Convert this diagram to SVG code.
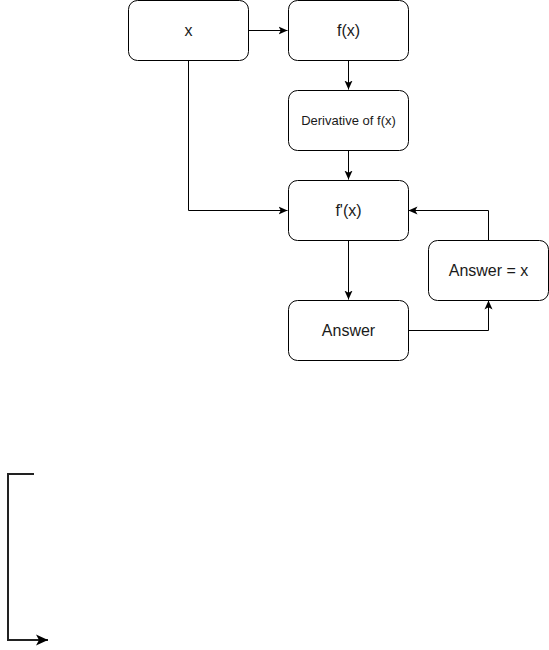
<svg xmlns="http://www.w3.org/2000/svg" width="549" height="650" viewBox="0 0 549 650">
<style>
.node rect{fill:#fff;stroke:#000;stroke-width:1}
.node text{font-family:"Liberation Sans",Arial,sans-serif;font-size:16px;fill:#1a1a1a;text-anchor:middle;dominant-baseline:central}
.edge{fill:none;stroke:#000;stroke-width:1}
</style>
<defs>
<marker id="arr" viewBox="0 0 10 10" refX="10" refY="5" markerWidth="9" markerHeight="9" markerUnits="userSpaceOnUse" orient="auto">
<path d="M0,0.5 L10,5 L0,9.5 L2.5,5 Z" fill="#000"/>
</marker>
<marker id="arr2" viewBox="0 0 10 10" refX="10" refY="5" markerWidth="12" markerHeight="12" markerUnits="userSpaceOnUse" orient="auto">
<path d="M0,0.5 L10,5 L0,9.5 L2.5,5 Z" fill="#000"/>
</marker>
</defs>
<g id="connectors">
<path class="edge" d="M248.5,30.5 H287.5" marker-end="url(#arr)"/>
<path class="edge" d="M348.5,60.5 V89.5" marker-end="url(#arr)"/>
<path class="edge" d="M348.5,150.5 V179.5" marker-end="url(#arr)"/>
<path class="edge" d="M188.5,60.5 V210.5 H287.5" marker-end="url(#arr)"/>
<path class="edge" d="M348.5,240.5 V299.5" marker-end="url(#arr)"/>
<path class="edge" d="M408.5,330.5 H488.5 V300.5" marker-end="url(#arr)"/>
<path class="edge" d="M488.5,240.5 V210.5 H408.5" marker-end="url(#arr)"/>
<path class="edge" style="stroke-width:2;stroke:#222" d="M34,474 H8 V640 H48" marker-end="url(#arr2)"/>
</g>
<g id="node-x" class="node"><rect x="128.5" y="0.5" width="120" height="60" rx="9"/><text x="188.5" y="30.5">x</text></g>
<g id="node-fx" class="node"><rect x="288.5" y="0.5" width="120" height="60" rx="9"/><text x="348.5" y="30.5">f(x)</text></g>
<g id="node-deriv" class="node"><rect x="288.5" y="90.5" width="120" height="60" rx="9"/><text x="348.5" y="120.5" style="font-size:13px">Derivative of f(x)</text></g>
<g id="node-fpx" class="node"><rect x="288.5" y="180.5" width="120" height="60" rx="9"/><text x="348.5" y="210.5">f'(x)</text></g>
<g id="node-answer" class="node"><rect x="288.5" y="300.5" width="120" height="60" rx="9"/><text x="348.5" y="330.5">Answer</text></g>
<g id="node-answerx" class="node"><rect x="428.5" y="240.5" width="120" height="60" rx="9"/><text x="488.5" y="270.5">Answer = x</text></g>
</svg>
